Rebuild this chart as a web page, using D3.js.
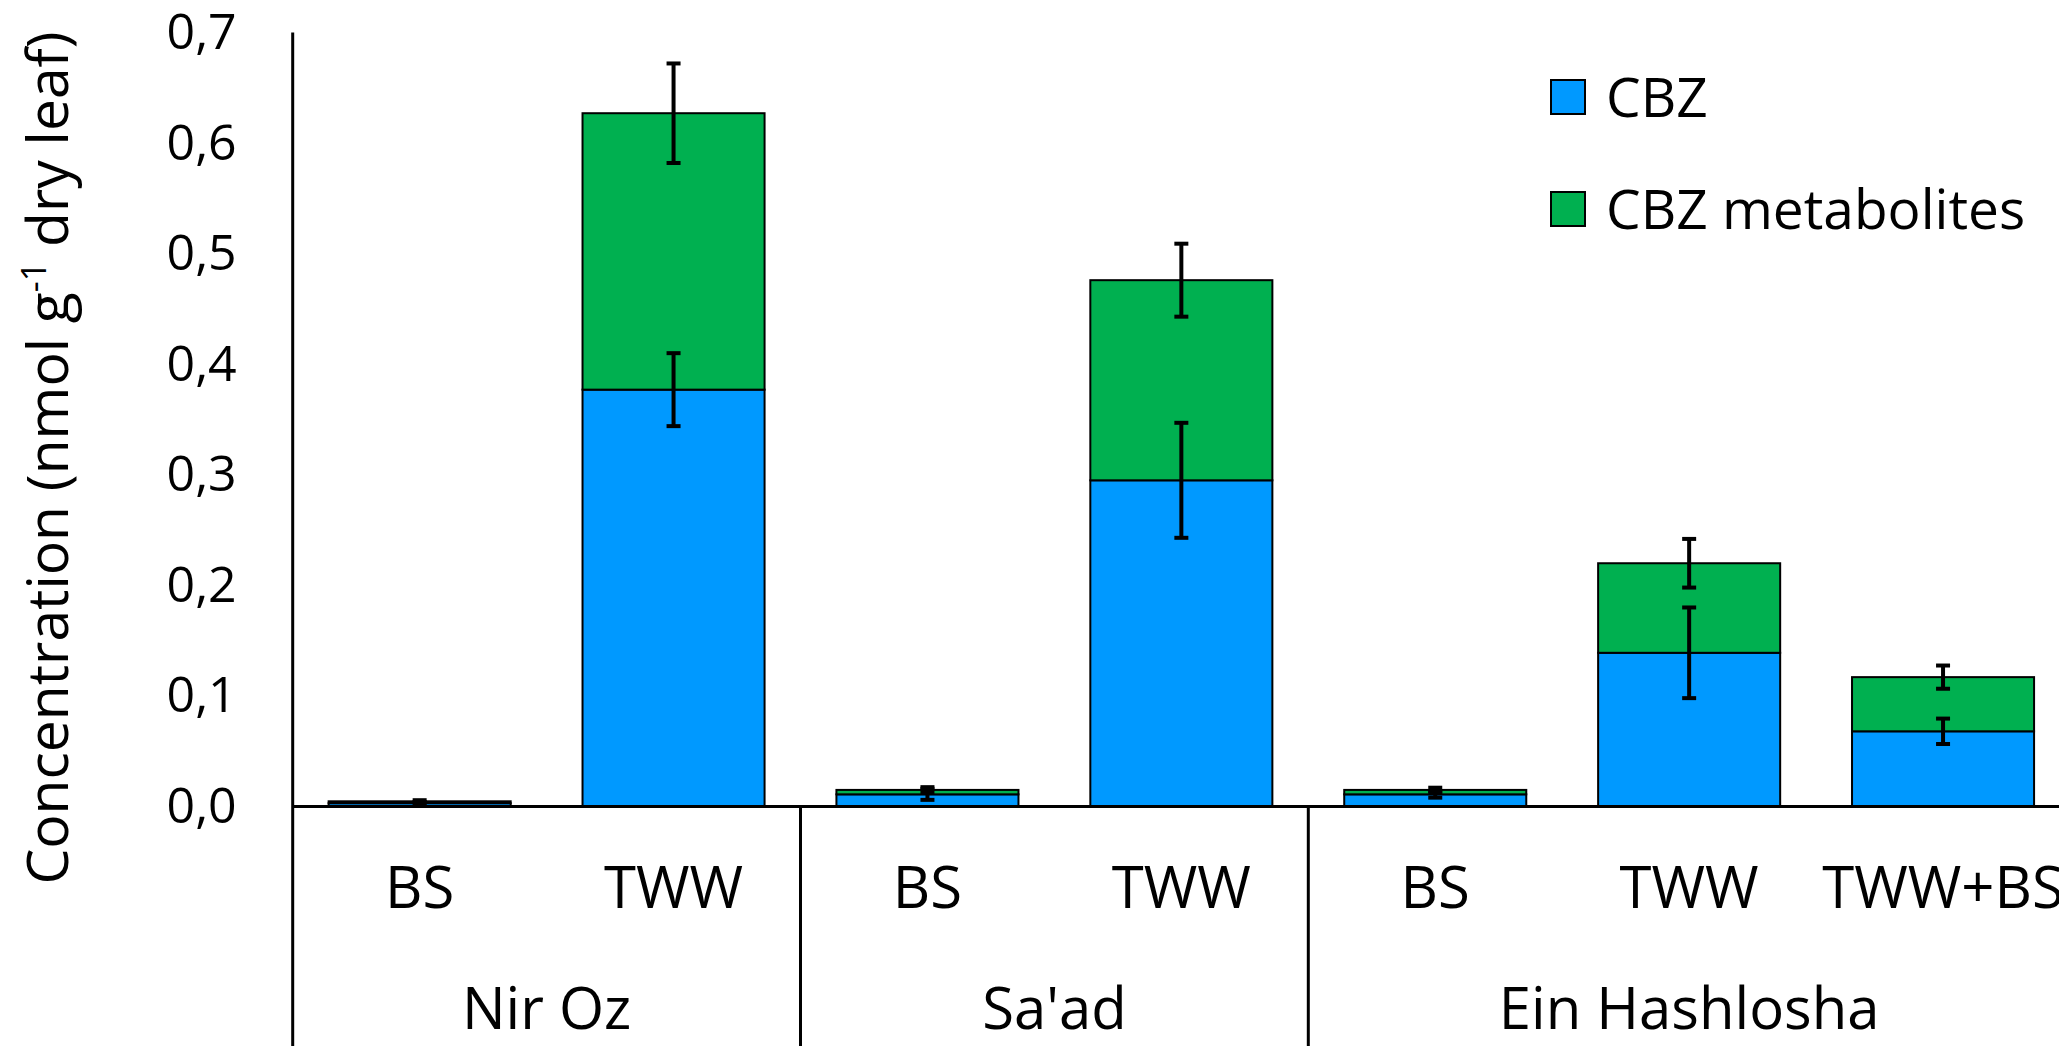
<!DOCTYPE html>
<html>
<head>
<meta charset="utf-8">
<script src="https://cdn.jsdelivr.net/npm/d3@7"></script>
<style>
  html, body { margin: 0; padding: 0; background: #fff; overflow: hidden; }
  svg { display: block; font-family: "Open Sans", sans-serif; }
</style>
</head>
<body>
<svg id="chart" width="2059" height="1046"></svg>
<script>
// ---- data ----
const categories = ["BS", "TWW", "BS", "TWW", "BS", "TWW", "TWW+BS"];
const groups = ["Nir Oz", "Sa'ad", "Ein Hashlosha"];
const groupOf = [0, 0, 1, 1, 2, 2, 2];
const cbz = [0.003, 0.377, 0.011, 0.295, 0.011, 0.139, 0.068];
const metabolites = [0.0017, 0.250, 0.004, 0.181, 0.004, 0.081, 0.049];
const cbzErr = [0.001, 0.033, 0.005, 0.052, 0.003, 0.041, 0.0115];
const totalErr = [0.001, 0.045, 0.0025, 0.033, 0.002, 0.022, 0.0105];
const yTicks = [0, 0.1, 0.2, 0.3, 0.4, 0.5, 0.6, 0.7];
const seriesNames = ["CBZ", "CBZ metabolites"];
const colors = ["#0099FF", "#00B050"];

// ---- layout ----
const W = 2059, H = 1046;
const x0 = 292.7, step = 253.9;
const svg = d3.select("#chart");

const x = d3.scaleBand()
  .domain(d3.range(categories.length))
  .range([x0, x0 + step * categories.length])
  .paddingInner(0.283)
  .paddingOuter(0.1415);

const y = d3.scaleLinear().domain([0, 0.7]).range([806.5, 32.5]);

const rows = categories.map((c, i) => ({ i, cbz: cbz[i], met: metabolites[i] }));
const stack = d3.stack().keys(["cbz", "met"])(rows);

// bars
const gBars = svg.append("g");
stack.forEach((layer, k) => {
  gBars.selectAll(null).data(layer).enter().append("rect")
    .attr("x", d => x(d.data.i))
    .attr("width", x.bandwidth())
    .attr("y", d => y(d[1]))
    .attr("height", d => y(d[0]) - y(d[1]))
    .attr("fill", colors[k])
    .attr("stroke", "#000")
    .attr("stroke-width", 2);
});

// error bars
const errs = [];
rows.forEach((r, i) => {
  errs.push({ i, v: cbz[i], e: cbzErr[i] });
  errs.push({ i, v: cbz[i] + metabolites[i], e: totalErr[i] });
});
const gErr = svg.append("g").attr("stroke", "#000").attr("stroke-width", 4);
errs.forEach(d => {
  const cx = x(d.i) + x.bandwidth() / 2;
  gErr.append("line").attr("x1", cx).attr("x2", cx).attr("y1", y(d.v + d.e)).attr("y2", y(d.v - d.e));
  gErr.append("line").attr("x1", cx - 7).attr("x2", cx + 7).attr("y1", y(d.v + d.e)).attr("y2", y(d.v + d.e));
  gErr.append("line").attr("x1", cx - 7).attr("x2", cx + 7).attr("y1", y(d.v - d.e)).attr("y2", y(d.v - d.e));
});

// y axis labels
const yAxis = d3.axisLeft(y)
  .tickValues(yTicks)
  .tickSize(0)
  .tickPadding(56)
  .tickFormat(d => d3.format(".1f")(d).replace(".", ","));
const gy = svg.append("g").attr("transform", `translate(${x0},0)`).call(yAxis);
gy.select(".domain").remove();
gy.selectAll("text").attr("font-size", 50).attr("font-family", "'Open Sans', sans-serif").attr("fill", "#000");

// axis lines
svg.append("line").attr("x1", x0).attr("x2", x0).attr("y1", y(0.7)).attr("y2", H)
  .attr("stroke", "#000").attr("stroke-width", 3);
svg.append("line").attr("x1", x0).attr("x2", W).attr("y1", y(0)).attr("y2", y(0))
  .attr("stroke", "#000").attr("stroke-width", 3);

// group separators
const groupBounds = [];
groups.forEach((g, gi) => {
  const idx = d3.range(categories.length).filter(i => groupOf[i] === gi);
  const left = x0 + step * idx[0];
  const right = x0 + step * (idx[idx.length - 1] + 1);
  groupBounds.push({ g, left, right });
});
groupBounds.slice(0, -1).forEach(b => {
  svg.append("line").attr("x1", b.right).attr("x2", b.right).attr("y1", y(0)).attr("y2", H)
    .attr("stroke", "#000").attr("stroke-width", 3);
});

// category labels
svg.append("g").selectAll("text").data(categories).enter().append("text")
  .attr("x", (d, i) => x(i) + x.bandwidth() / 2)
  .attr("y", 908)
  .attr("text-anchor", "middle")
  .attr("font-size", 58)
  .attr("fill", "#000")
  .text(d => d);

// group labels
svg.append("g").selectAll("text").data(groupBounds).enter().append("text")
  .attr("x", d => (d.left + d.right) / 2)
  .attr("y", 1029)
  .attr("text-anchor", "middle")
  .attr("font-size", 58)
  .attr("fill", "#000")
  .text(d => d.g);

// y axis title
const title = svg.append("text")
  .attr("transform", "translate(68,458) rotate(-90)")
  .attr("text-anchor", "middle")
  .attr("font-size", 57)
  .attr("fill", "#000");
title.append("tspan").text("Concentration (nmol g");
title.append("tspan").attr("font-size", 34).attr("dy", -22).text("-1");
title.append("tspan").attr("dy", 22).text(" dry leaf)");

// legend
const legend = svg.append("g");
seriesNames.forEach((name, k) => {
  const ly = 97 + k * 112;
  legend.append("rect").attr("x", 1551).attr("y", ly - 17).attr("width", 34).attr("height", 34)
    .attr("fill", colors[k]).attr("stroke", "#000").attr("stroke-width", 2);
  legend.append("text").attr("x", 1606).attr("y", ly + 20).attr("font-size", 55).attr("fill", "#000").text(name);
});
</script>
</body>
</html>
